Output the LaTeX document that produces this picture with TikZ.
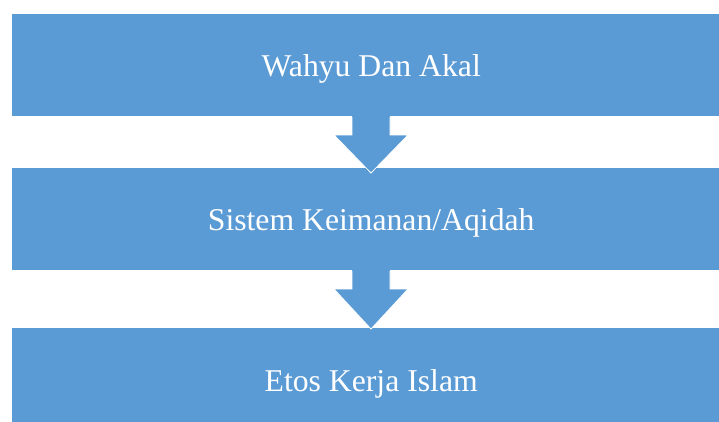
\documentclass[tikz,border=0pt]{standalone}
\usepackage{fontspec}
\setmainfont{Liberation Serif}
\definecolor{boxblue}{HTML}{5B9BD5}
\begin{document}
\begin{tikzpicture}[x=1pt,y=-1pt,
  bluebox/.style={fill=boxblue,draw=none,minimum width=718pt,inner sep=0pt,anchor=north west,text=white,text height=22pt,text depth=0pt,font=\fontsize{31.7}{38}\selectfont},
  downarrow/.style={fill=boxblue,draw=white,line width=0.8pt,line join=miter}]
\useasboundingbox (0,0) rectangle (719,421);
\begin{scope}
\clip (0,0) rectangle (719,421);
\node[bluebox,minimum height=102pt] (b1) at (12,14) {Wahyu Dan Akal};
\node[bluebox,minimum height=102pt] (b2) at (12,168) {Sistem Keimanan/Aqidah};
\node[bluebox,minimum height=104pt] (b3) at (12,328) {Etos Kerja Islam};
\draw[downarrow] (352,116.5) -- (352,135) -- (334,135) -- (371,173) -- (408,135) -- (390,135) -- (390,116.5);
\draw[downarrow] (352,270.5) -- (352,289) -- (334,289) -- (371,329) -- (408,289) -- (390,289) -- (390,270.5);
\fill[boxblue] (352.4,112) rectangle (389.6,117);
\fill[boxblue] (352.4,266) rectangle (389.6,271);
\end{scope}
\end{tikzpicture}
\end{document}
